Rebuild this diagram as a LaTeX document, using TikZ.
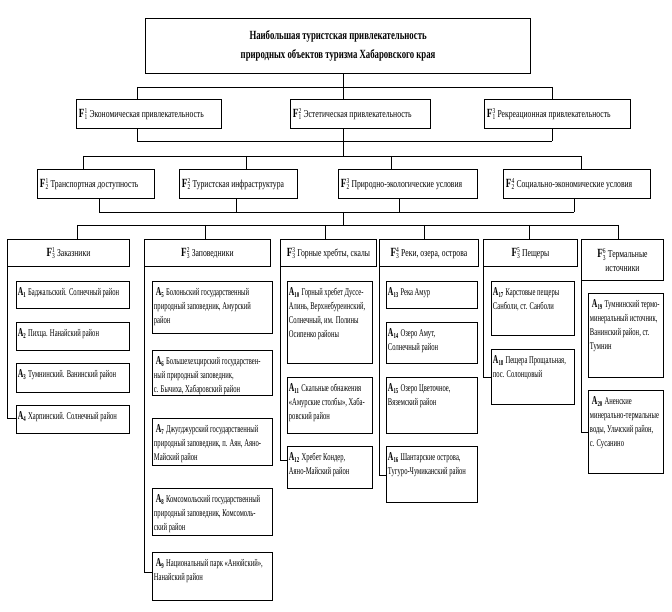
\documentclass[tikz,border=0pt]{standalone}
\usepackage{fontspec}
\setmainfont{Liberation Serif}[FakeStretch=0.73]
\newfontfamily\afont{Liberation Serif}[FakeStretch=0.64]
\newfontfamily\tfont{Liberation Serif}[FakeStretch=0.70]
\usetikzlibrary{calc}
\newcommand\smallidx[1]{\hbox{\fontsize{7.5}{7.5}\selectfont #1}}
\newcommand\FL[2]{{\fontsize{12.5}{11}\selectfont\textbf{F}}$_{\smallidx{#1}}^{\smallidx{#2}}$\,}
\newcommand\AL[1]{{\fontsize{12}{11}\selectfont\textbf{A}}$_{\smallidx{\textbf{#1}}}$\,}
% generic box: style, name, x1, y1, x2, y2, content
\newcommand\Bx[7]{\node[#1, anchor=north west, minimum width={(#5-#3)*1pt}, minimum height={(#6-#4)*1pt}] (#2) at (#3,#4) {#7};}
% left-aligned, vertically centred
\newcommand\Lb[6]{\Bx{fbox}{#1}{#2}{#3}{#4}{#5}{\parbox{\dimexpr#4pt-#2pt-5pt\relax}{\raggedright #6}}}
% centred
\newcommand\Cb[6]{\Bx{fbox}{#1}{#2}{#3}{#4}{#5}{\parbox{\dimexpr#4pt-#2pt-5pt\relax}{\centering #6}}}
% top-aligned A box
\newcommand\Ab[6]{\Bx{abox}{#1}{#2}{#3}{#4}{#5}{\parbox[t][\dimexpr#5pt-#3pt-9pt\relax][t]{\dimexpr#4pt-#2pt-3pt\relax}{\raggedright\strut #6}}}
\tikzset{
  fbox/.style={draw, line width=0.9pt, inner sep=0pt, font=\fontsize{10.5}{14}\selectfont},
  abox/.style={draw, line width=0.9pt, inner xsep=1.5pt, inner ysep=4.5pt, font=\afont\fontsize{10.3}{14}\selectfont},
  tbox/.style={draw, line width=1.2pt, inner sep=0pt, font=\tfont\fontsize{12.5}{19}\selectfont\bfseries},
  conn/.style={draw, line width=0.8pt},
}
\begin{document}
\begin{tikzpicture}[x=1pt,y=-1pt]
\useasboundingbox (0,0) rectangle (672,612);
% title
\Bx{tbox}{T}{145}{18}{530}{73}{\parbox{370pt}{\centering Наибольшая туристская привлекательность\\ природных объектов туризма Хабаровского края}}
% level F1
\Lb{F11}{76}{99}{221}{128}{\FL{1}{1}Экономическая привлекательность}
\Lb{F12}{290}{99}{430}{128}{\FL{1}{2}Эстетическая привлекательность}
\Lb{F13}{484}{99}{630}{128}{\FL{1}{3}Рекреационная привлекательность}
% level F2
\Lb{F21}{37}{169}{154}{198}{\FL{2}{1}Транспортная доступность}
\Lb{F22}{179}{169}{297}{198}{\FL{2}{2}Туристская инфраструктура}
\Lb{F23}{338}{169}{477}{198}{\FL{2}{3}Природно-экологические условия}
\Lb{F24}{503}{169}{650}{198}{\FL{2}{4}Социально-экономические условия}
% level F3
\Cb{F31}{7}{239}{129}{266}{\FL{3}{1}Заказники}
\Cb{F32}{144}{239}{270}{266}{\FL{3}{2}Заповедники}
\Cb{F33}{280}{239}{376}{266}{\FL{3}{3}Горные хребты, скалы}
\Cb{F34}{379}{239}{478}{266}{\FL{3}{4}Реки, озера, острова}
\Cb{F35}{483}{239}{577}{266}{\FL{3}{5}Пещеры}
\Cb{F36}{581}{239}{663}{280}{\FL{3}{6}Термальные\\ источники}
% column 1
\Ab{A1}{16}{281}{129}{308}{\AL{1}Баджальский. Солнечный район}
\Ab{A2}{16}{322}{129}{350}{\AL{2}Пихца. Нанайский район}
\Ab{A3}{16}{363}{129}{392}{\AL{3}Тумнинский. Ванинский район}
\Ab{A4}{16}{405}{129}{433}{\AL{4}Харпинский. Солнечный район}
% column 2
\Ab{A5}{152}{281}{272}{333}{\hspace{2pt}\AL{5}Болоньский государственный\\ природный заповедник, Амурский\\ район}
\Ab{A6}{152}{350}{272}{395}{\hspace{2pt}\AL{6}Большехехцирский государствен-\\ный природный заповедник,\\ с. Бычиха, Хабаровский район}
\Ab{A7}{152}{418}{272}{465}{\hspace{2pt}\AL{7}Джугджурский государственный\\ природный заповедник, п. Аян, Аяно-\\Майский район}
\Ab{A8}{152}{488}{272}{535}{\hspace{2pt}\AL{8}Комсомольский государственный\\ природный заповедник, Комсомоль-\\ский район}
\Ab{A9}{152}{552}{272}{600}{\hspace{2pt}\AL{9}Национальный парк «Анюйский»,\\ Нанайский район}
% column 3
\Ab{A10}{287}{281}{372}{363}{\AL{10}Горный хребет Дуссе-\\Алинь, Верхнебуреинский,\\ Солнечный, им. Полины\\ Осипенко районы}
\Ab{A11}{287}{377}{372}{433}{\AL{11}Скальные обнажения\\ «Амурские столбы», Хаба-\\ровский район}
\Ab{A12}{287}{446}{372}{488}{\AL{12}Хребет Кондер,\\ Аяно-Майский район}
% column 4
\Ab{A13}{386}{281}{477}{308}{\AL{13}Река Амур}
\Ab{A14}{386}{322}{477}{363}{\AL{14}Озеро Амут,\\ Солнечный район}
\Ab{A15}{386}{377}{477}{433}{\AL{15}Озеро Цветочное,\\ Вяземский район}
\Ab{A16}{386}{446}{477}{502}{\AL{16}Шантарские острова,\\ Тугуро-Чумиканский район}
% column 5
\Ab{A17}{491}{281}{574}{335}{\AL{17}Карстовые пещеры\\ Санболи, ст. Санболи}
\Ab{A18}{491}{349}{574}{404}{\AL{18}Пещера Прощальная,\\ пос. Солонцовый}
% column 6
\Ab{A19}{588}{293}{663}{377}{\hspace{2pt}\AL{19}Тумнинский термо-\\минеральный источник,\\ Ванинский район, ст.\\ Тумнин}
\Ab{A20}{588}{390}{663}{473}{\hspace{2pt}\AL{20}Аненские\\ минерально-термальные\\ воды, Ульчский район,\\ с. Сусанино}
% ---- connectors: top tree
\coordinate (c1) at (137,87); \coordinate (c2) at (343,87); \coordinate (c3) at (552,87);
\draw[conn] (T.south -| c2) -- (c2);
\draw[conn] (c1) -- (c3);
\draw[conn] (c1) -- (c1 |- F11.north);
\draw[conn] (c2) -- (c2 |- F12.north);
\draw[conn] (c3) -- (c3 |- F13.north);
\coordinate (d1) at (137,141); \coordinate (d2) at (343,141); \coordinate (d3) at (552,141);
\draw[conn] (d1 |- F11.south) -- (d1);
\draw[conn] (d2 |- F12.south) -- (d2);
\draw[conn] (d3 |- F13.south) -- (d3);
\draw[conn] (d1) -- (d3);
\coordinate (e0) at (343,156);
\draw[conn] (d2) -- (e0);
\coordinate (f1) at (83,156); \coordinate (f2) at (246,156); \coordinate (f3) at (391,156); \coordinate (f4) at (581,156);
\draw[conn] (f1) -- (f4);
\draw[conn] (f1) -- (f1 |- F21.north);
\draw[conn] (f2) -- (f2 |- F22.north);
\draw[conn] (f3) -- (f3 |- F23.north);
\draw[conn] (f4) -- (f4 |- F24.north);
\coordinate (g1) at (99,212); \coordinate (g2) at (236,212); \coordinate (g3) at (399,212); \coordinate (g4) at (574,212);
\draw[conn] (g1 |- F21.south) -- (g1);
\draw[conn] (g2 |- F22.south) -- (g2);
\draw[conn] (g3 |- F23.south) -- (g3);
\draw[conn] (g4 |- F24.south) -- (g4);
\draw[conn] (g1) -- (g4);
\coordinate (g0) at (343,212); \coordinate (h0) at (343,225);
\draw[conn] (g0) -- (h0);
\coordinate (h1) at (77,225); \coordinate (h2) at (205,225); \coordinate (h3) at (325,225);
\coordinate (h4) at (424,225); \coordinate (h5) at (529,225); \coordinate (h6) at (618,225);
\draw[conn] (h1) -- (h6);
\foreach \i in {1,...,6} { \draw[conn] (h\i) -- (h\i |- F3\i.north); }
% ---- column spines
\newcommand\tick[3]{\draw[conn] ($(#2.north west)+(0,#3)$) -- ($(#2.north west)+(0,#3)$ -| #1.south west);}
% col1
\draw[conn] (F31.south west) |- ($(A4.north west)+(0,13)$);
\tick{F31}{A1}{13}\tick{F31}{A2}{14}\tick{F31}{A3}{14}
% col2
\draw[conn] (F32.south west) |- ($(A9.north west)+(0,20)$);
\tick{F32}{A5}{27}\tick{F32}{A6}{24}\tick{F32}{A7}{25}\tick{F32}{A8}{25}
% col3
\draw[conn] (F33.south west) |- ($(A12.north west)+(0,14)$);
\tick{F33}{A10}{17}\tick{F33}{A11}{27}
% col4
\draw[conn] (F34.south west) |- ($(A16.north west)+(0,29)$);
\tick{F34}{A13}{13}\tick{F34}{A14}{27}\tick{F34}{A15}{41}
% col5
\draw[conn] (F35.south west) |- ($(A18.north west)+(0,28)$);
\tick{F35}{A17}{26}
% col6
\draw[conn] (F36.south west) |- ($(A20.north west)+(0,42)$);
\tick{F36}{A19}{29}
\end{tikzpicture}
\end{document}
